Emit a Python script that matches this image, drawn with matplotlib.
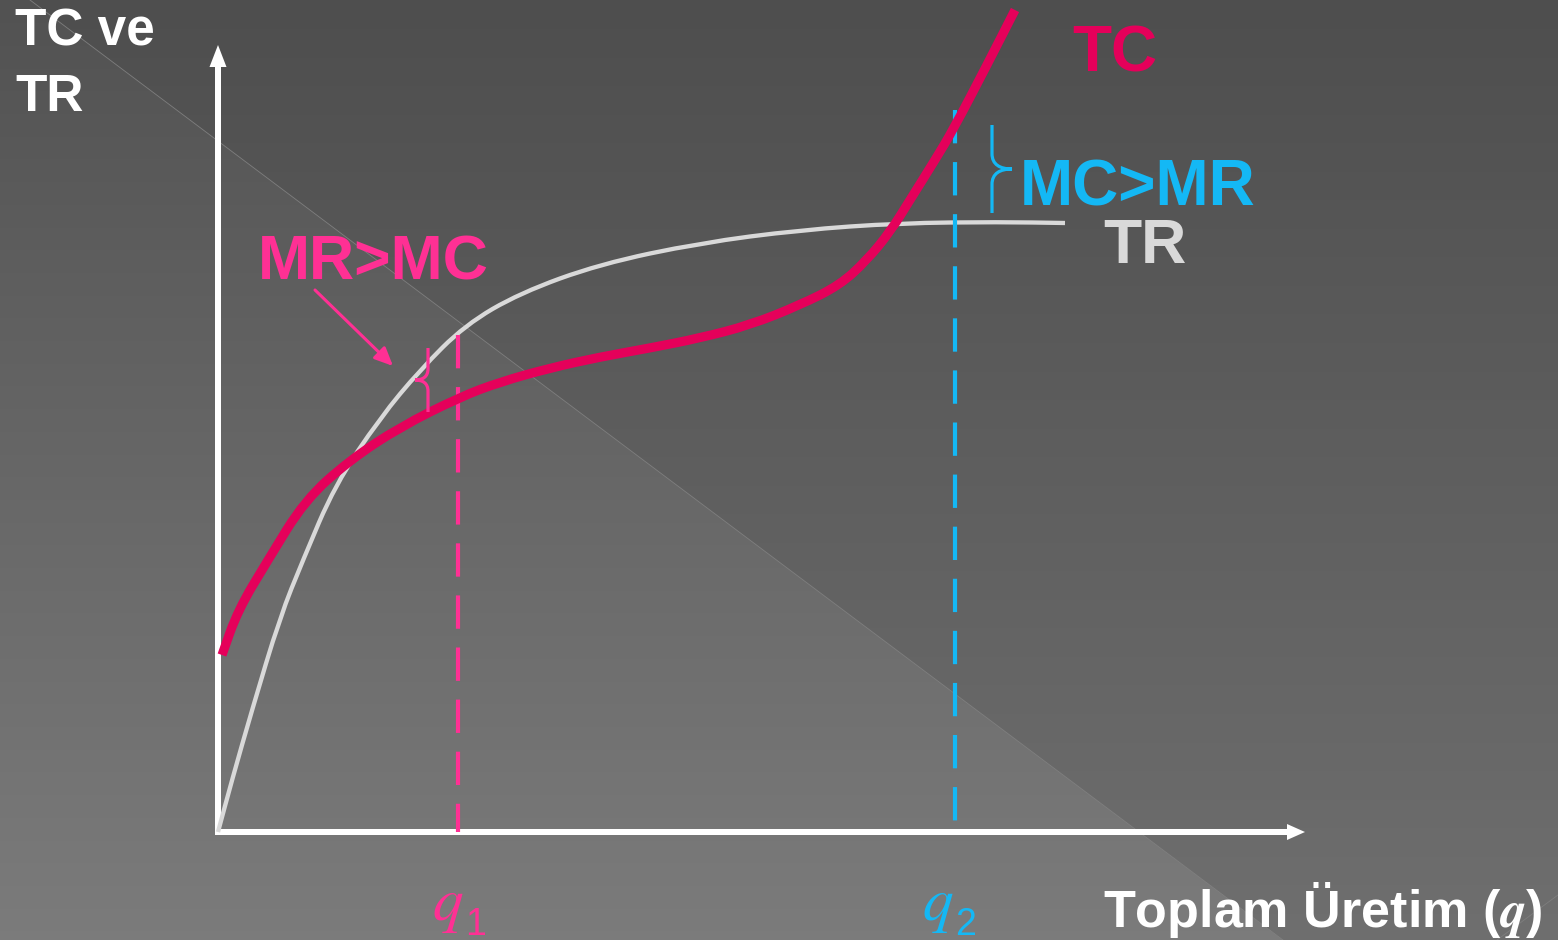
import matplotlib.pyplot as plt
import numpy as np
from matplotlib.path import Path
from matplotlib.patches import PathPatch

plt.rcParams['font.family'] = ['Liberation Sans', 'DejaVu Sans']
plt.rcParams['mathtext.fontset'] = 'stix'

# curve points, output (q) against value, origin at the axes corner
tc_q = [4, 20, 50, 87, 132, 182, 242, 282, 332, 382, 432, 482, 532, 582,
        622, 649, 672, 692, 717, 735, 769, 797]
tc_v = [177, 222, 272, 332, 372, 405, 435, 450, 464, 475, 484, 494, 507, 527,
        547, 572, 600, 632, 672, 702, 767, 822]

tr_q = [0, 14, 34, 62, 85, 117, 162, 202, 247, 302, 382, 482, 582, 682, 782, 847]
tr_v = [0, 52, 122, 215, 272, 347, 414, 462, 507, 539, 568, 589, 602, 609, 610, 609]

q1 = 240
q2 = 737
q1_top = 497
q2_top = 722

TC_COL = '#e5005a'
PINK = '#ff3094'
CYAN = '#14b8f5'
TR_COL = '#d9d9d9'

fig = plt.figure(figsize=(15.58, 9.4), dpi=100)
ax = fig.add_axes([0, 0, 1, 1])
x0, x1, y0, y1 = -218, 1340, -108, 832
ax.set_xlim(x0, x1)
ax.set_ylim(y0, y1)
ax.axis('off')

# background: vertical gradient split by a diagonal
gx, gy = np.meshgrid(np.linspace(x0, x1, 1558), np.linspace(y1, y0, 940))
depth = y1 - gy
diag_x = -188 + depth * (1253 / 940)
light = 82 + 0.044 * depth
dark = 78 + 0.035 * depth
g = np.where(gx < diag_x, light, dark) / 255.0
ax.imshow(np.dstack([g, g, g]), extent=(x0, x1, y0, y1), aspect='auto', zorder=0)
ax.plot([-188, 1065], [832, -108], color='#7e7e7e', lw=0.6, zorder=1)
ax.plot([1279, 1340], [-108, -63], color='#7e7e7e', lw=0.6, zorder=1)


def smooth_curve(xs, ys, **kw):
    # quadratic pieces through the midpoints, the points act as controls
    pts = np.column_stack([xs, ys]).astype(float)
    mids = (pts[:-1] + pts[1:]) / 2
    verts = [pts[0], mids[0]]
    codes = [Path.MOVETO, Path.LINETO]
    for i in range(1, len(pts) - 1):
        verts += [pts[i], mids[i]]
        codes += [Path.CURVE3, Path.CURVE3]
    verts.append(pts[-1])
    codes.append(Path.LINETO)
    ax.add_patch(PathPatch(Path(verts, codes), fc='none', capstyle='butt',
                           joinstyle='round', **kw))


# axes with arrow heads
ax.arrow(0, 0, 0, 787, width=6, head_width=17, head_length=22,
         length_includes_head=True, fc='white', ec='none', zorder=3)
ax.arrow(-3, 0, 1090, 0, width=6, head_width=16, head_length=18,
         length_includes_head=True, fc='white', ec='none', zorder=3)

# TR and TC
smooth_curve(tr_q, tr_v, ec=TR_COL, lw=3.1, zorder=4)
smooth_curve(tc_q, tc_v, ec=TC_COL, lw=6.6, zorder=5)

# q1 and q2 guides, dashes start from the top
ax.plot([q1, q1], [q1_top, 0], color=PINK, lw=3.0, dashes=(8, 4.5), zorder=4)
ax.plot([q2, q2], [q2_top, 0], color=CYAN, lw=3.0, dashes=(8, 4.5), zorder=4)


def brace(xb, ya, yb, w, color):
    ym = (ya + yb) / 2
    h = abs(ya - yb) / 2
    top, bot = max(ya, yb), min(ya, yb)
    verts = [(xb, top), (xb, ym + 0.35 * h),
             (xb, ym + 0.1 * h), (xb + 0.4 * w, ym), (xb + w, ym),
             (xb + 0.4 * w, ym), (xb, ym - 0.1 * h), (xb, ym - 0.35 * h),
             (xb, bot)]
    codes = [Path.MOVETO, Path.LINETO,
             Path.CURVE4, Path.CURVE4, Path.CURVE4,
             Path.CURVE4, Path.CURVE4, Path.CURVE4,
             Path.LINETO]
    ax.add_patch(PathPatch(Path(verts, codes), fc='none', ec=color, lw=2.3,
                           zorder=6))


brace(210, 484, 420, -13, PINK)
brace(774, 707, 619, 20, CYAN)

# labels
ax.text(-203, 824, 'TC ve\nTR', color='white', fontsize=37, fontweight='bold',
        ha='left', va='top', linespacing=1.42)
ax.text(854, 760, 'TC', color=TC_COL, fontsize=46, fontweight='bold',
        ha='left', va='baseline')
ax.text(802, 627, 'MC>MR', color=CYAN, fontsize=46, fontweight='bold',
        ha='left', va='baseline')
ax.text(885, 569, 'TR', color=TR_COL, fontsize=45, fontweight='bold',
        ha='left', va='baseline')
ax.text(40, 552, 'MR>MC', color=PINK, fontsize=45, fontweight='bold',
        ha='left', va='baseline')
ax.annotate('', xy=(175, 466), xytext=(97, 542),
            arrowprops=dict(arrowstyle='-|>,head_length=1.1,head_width=0.5',
                            color=PINK, lw=2.2, mutation_scale=10,
                            shrinkA=0, shrinkB=0), zorder=6)
ax.text(885, -95, r'Toplam Üretim ($\boldsymbol{q}$)', color='white',
        fontsize=37.5, fontweight='bold', ha='left', va='baseline')

for qx, sub, col in [(214, '1', PINK), (704, '2', CYAN)]:
    ax.text(qx, -88, r'$q$', color=col, fontsize=44, ha='left', va='baseline')
    ax.text(qx + 33, -103, sub, color=col, fontsize=27, ha='left',
            va='baseline')

plt.savefig('out.png', dpi=100)
plt.close()
